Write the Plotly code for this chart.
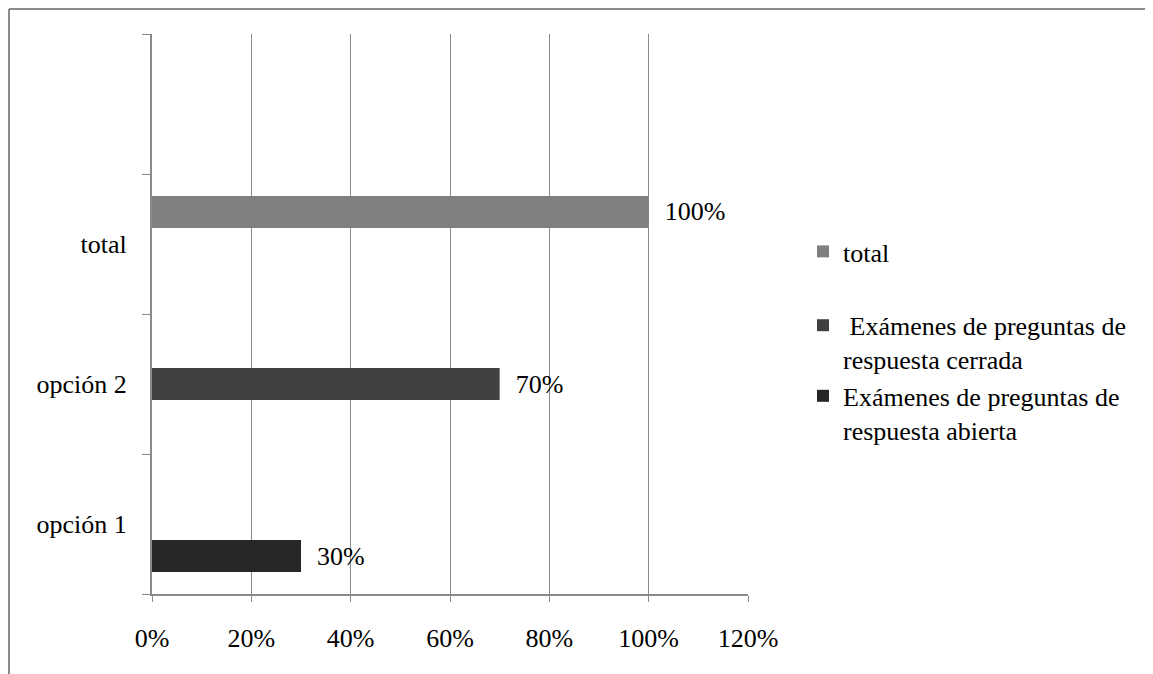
import plotly.graph_objects as go

categories = ["opción 1", "opción 2", "total", " "]
abierta = [0.30, None, None, None]
cerrada = [None, 0.70, None, None]
total = [None, None, 1.00, None]

series_names = [
    "Exámenes de preguntas de<br>respuesta abierta",
    " Exámenes de preguntas de<br>respuesta cerrada",
    "total",
]
series_values = [abierta, cerrada, total]
series_colors = ["#262626", "#404040", "#808080"]
series_groups = ["b", "b", "a"]
series_ranks = [3, 2, 1]

x_tickvals = [0, 0.2, 0.4, 0.6, 0.8, 1.0, 1.2]

FONT = "Times New Roman"
FS = 26
fig = go.Figure()
for name, vals, col, grp, rk in zip(series_names, series_values, series_colors, series_groups, series_ranks):
    fig.add_trace(go.Bar(
        y=categories, x=vals, name=name, orientation="h",
        marker=dict(color=col, line=dict(width=0)),
        texttemplate="\u00a0\u00a0%{x:.0%}", textposition="outside",
        textfont=dict(family=FONT, size=FS, color="black"),
        cliponaxis=False, legendgroup=grp, legendrank=rk,
    ))

# page is offset by the body margin (8px)
OFF = 8
W, H = 1153 - OFF, 674 - OFF
L, T = 152 - OFF, 34 - OFF
pw, ph = 596, 560
R, B = W - L - pw, H - T - ph

def px(xp):
    return (xp - OFF - L) / pw

def py(yp):
    return (H - B - (yp - OFF)) / ph

fig.update_layout(
    width=W, height=H,
    margin=dict(l=L, r=R, t=T, b=B, autoexpand=False),
    paper_bgcolor="white", plot_bgcolor="white",
    barmode="group", bargap=0.314, bargroupgap=0,
    font=dict(family=FONT, size=FS, color="black"),
    showlegend=True,
    legend=dict(
        traceorder="grouped", tracegroupgap=37,
        x=px(803), xanchor="left", y=py(228), yanchor="top",
        valign="top", font=dict(family=FONT, size=FS, color="black"),
        bgcolor="rgba(0,0,0,0)",
    ),
    xaxis=dict(
        range=[0, 1.2], tickvals=x_tickvals, tickformat=".0%",
        showgrid=True, gridcolor="#8a8a8a", gridwidth=1.3,
        showline=True, linecolor="#8a8a8a", linewidth=2,
        ticks="outside", ticklen=6, tickcolor="#8a8a8a",
        ticklabelstandoff=14, zeroline=False, automargin=False,
        tickfont=dict(family=FONT, size=FS, color="black"),
    ),
    yaxis=dict(
        categoryorder="array", categoryarray=categories,
        tickson="boundaries", ticks="outside", ticklen=8, tickcolor="#8a8a8a",
        showline=True, linecolor="#8a8a8a", linewidth=2,
        showgrid=False, ticklabelstandoff=18, automargin=False,
        tickfont=dict(family=FONT, size=FS, color="black"),
    ),
    shapes=[
        dict(type="line", xref="paper", yref="paper",
             x0=px(9), y0=py(9), x1=px(1200), y1=py(9),
             line=dict(color="#8a8a8a", width=2)),
        dict(type="line", xref="paper", yref="paper",
             x0=px(9), y0=py(9), x1=px(9), y1=py(700),
             line=dict(color="#8a8a8a", width=2)),
    ],
)

fig.write_html("out.html")
